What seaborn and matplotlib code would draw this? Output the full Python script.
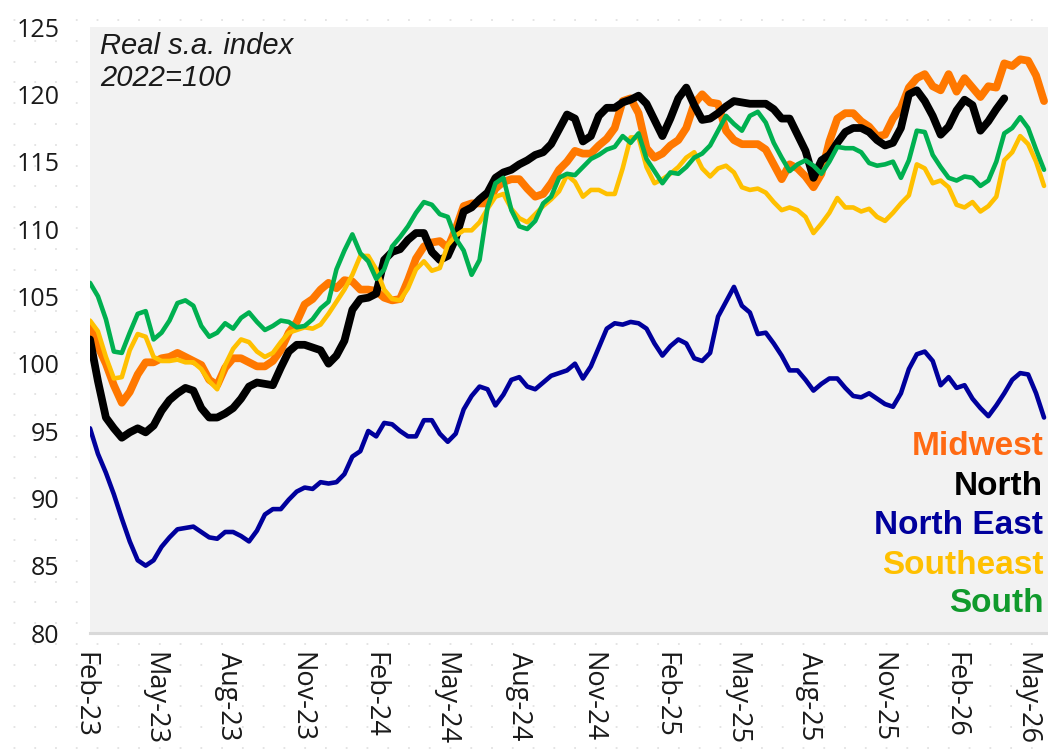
import numpy as np
import pandas as pd
import matplotlib
matplotlib.use("Agg")
import matplotlib.pyplot as plt
import matplotlib.dates as mdates
import matplotlib.transforms as mtransforms
import seaborn as sns

# ---------------- data (10-day steps from 1 Feb 2023) ----------------
dates = pd.date_range("2023-02-01", periods=121, freq="10D")

midwest = [102.8, 101.3, 100.0, 98.4, 97.1, 97.9, 99.2, 100.1, 100.1, 100.4,
           100.5, 100.8, 100.5, 100.2, 99.9, 98.8, 98.4, 99.7, 100.4, 100.4,
           100.1, 99.8, 99.8, 100.2, 101.0, 102.3, 103.1, 104.4, 104.8, 105.5,
           106.0, 105.6, 106.2, 106.1, 105.5, 105.5, 105.4, 104.9, 104.7, 104.8,
           106.2, 107.8, 108.7, 109.0, 109.1, 108.6, 110.0, 111.7, 111.9, 111.9,
           111.9, 113.0, 113.5, 113.7, 113.7, 113.0, 112.4, 112.6, 113.4, 114.4,
           115.0, 115.8, 115.6, 115.6, 116.2, 116.7, 117.5, 119.5, 119.7, 118.6,
           116.0, 115.3, 115.6, 116.2, 116.6, 117.5, 119.3, 120.0, 119.4, 119.3,
           117.3, 116.6, 116.3, 116.3, 116.3, 115.9, 114.8, 113.7, 114.8, 114.5,
           113.9, 113.1, 114.1, 116.5, 118.2, 118.6, 118.6, 118.0, 117.6, 116.9,
           117.0, 118.2, 119.0, 120.5, 121.2, 121.5, 120.6, 120.3, 121.5, 120.2,
           121.2, 120.5, 119.8, 120.6, 120.5, 122.3, 122.1, 122.6, 122.5, 121.4,
           119.5]

north = [101.8, 98.7, 96.0, 95.2, 94.5, 94.9, 95.2, 94.9, 95.4, 96.5,
         97.3, 97.8, 98.2, 98.0, 96.7, 96.0, 96.0, 96.3, 96.7, 97.4,
         98.3, 98.6, 98.5, 98.4, 99.7, 100.9, 101.4, 101.4, 101.2, 101.0,
         100.0, 100.6, 101.7, 104.0, 104.8, 104.9, 105.2, 107.7, 108.3, 108.5,
         109.2, 109.7, 109.7, 108.3, 107.7, 108.0, 109.3, 111.3, 111.6, 112.2,
         112.7, 113.8, 114.2, 114.4, 114.8, 115.1, 115.5, 115.7, 116.3, 117.4,
         118.5, 118.2, 116.5, 116.9, 118.4, 119.0, 119.0, 119.4, 119.6, 119.9,
         119.3, 118.1, 116.9, 118.2, 119.7, 120.5, 119.2, 118.1, 118.2, 118.6,
         119.1, 119.5, 119.4, 119.3, 119.3, 119.3, 118.9, 118.2, 118.2, 117.0,
         115.8, 113.8, 115.1, 115.5, 116.4, 117.2, 117.5, 117.5, 117.2, 116.6,
         116.2, 116.4, 117.5, 120.0, 120.3, 119.5, 118.4, 117.0, 117.6, 118.8,
         119.6, 119.2, 117.3, 118.0, 118.9, 119.7]

north_east = [95.2, 93.3, 91.9, 90.3, 88.5, 86.8, 85.4, 85.0, 85.4, 86.4,
              87.1, 87.7, 87.8, 87.9, 87.5, 87.1, 87.0, 87.5, 87.5, 87.2,
              86.8, 87.6, 88.8, 89.2, 89.2, 89.9, 90.5, 90.8, 90.7, 91.2,
              91.1, 91.2, 91.8, 93.1, 93.5, 95.0, 94.6, 95.6, 95.5, 95.0,
              94.6, 94.6, 95.8, 95.8, 94.8, 94.2, 94.8, 96.6, 97.6, 98.3,
              98.1, 96.9, 97.7, 98.8, 99.0, 98.3, 98.1, 98.6, 99.1, 99.3,
              99.5, 100.0, 98.9, 99.8, 101.2, 102.6, 103.0, 102.9, 103.1, 103.0,
              102.6, 101.5, 100.6, 101.3, 101.8, 101.5, 100.4, 100.2, 100.8, 103.5,
              104.6, 105.7, 104.3, 103.8, 102.2, 102.3, 101.5, 100.6, 99.5, 99.5,
              98.8, 98.0, 98.5, 98.9, 98.9, 98.2, 97.6, 97.5, 97.8, 97.4,
              97.0, 96.8, 97.8, 99.6, 100.7, 100.9, 100.2, 98.4, 99.0, 98.2,
              98.4, 97.4, 96.7, 96.1, 96.9, 97.8, 98.8, 99.3, 99.2, 97.8,
              96.0]

southeast = [103.2, 102.4, 100.5, 98.9, 99.0, 101.0, 102.2, 102.0, 100.5, 100.2,
             100.2, 100.3, 100.1, 100.1, 99.6, 98.7, 98.1, 99.9, 101.1, 101.8,
             101.6, 100.9, 100.5, 100.8, 101.6, 102.3, 102.5, 102.7, 102.6, 102.9,
             103.7, 104.6, 105.5, 106.6, 108.0, 108.0, 107.0, 105.5, 104.8, 104.7,
             105.6, 107.0, 107.6, 106.9, 107.1, 108.8, 109.5, 109.9, 109.9, 110.5,
             111.5, 112.4, 112.6, 111.5, 110.8, 110.5, 111.1, 111.7, 112.2, 112.8,
             114.0, 113.5, 112.4, 112.9, 112.9, 112.6, 112.6, 114.5, 116.8, 116.8,
             114.6, 113.4, 113.7, 114.1, 114.6, 115.3, 115.7, 114.5, 113.9, 114.5,
             114.7, 114.2, 113.1, 112.9, 113.0, 112.7, 112.0, 111.4, 111.6, 111.4,
             110.9, 109.7, 110.4, 111.2, 112.3, 111.6, 111.6, 111.3, 111.5, 110.9,
             110.6, 111.2, 111.9, 112.5, 114.8, 114.5, 113.4, 113.6, 113.1, 111.8,
             111.6, 112.0, 111.3, 111.7, 112.4, 115.1, 115.7, 116.9, 116.3, 115.0,
             113.2]

south = [106.0, 105.0, 103.3, 100.9, 100.8, 102.3, 103.7, 103.9, 101.8, 102.3,
         103.2, 104.5, 104.7, 104.3, 102.8, 102.0, 102.3, 103.0, 102.6, 103.4,
         103.8, 103.1, 102.5, 102.8, 103.2, 103.1, 102.7, 102.8, 103.3, 104.1,
         104.6, 107.0, 108.4, 109.6, 108.2, 107.6, 106.3, 107.0, 108.7, 109.4,
         110.2, 111.2, 112.0, 111.8, 111.1, 110.9, 109.3, 108.4, 106.6, 107.7,
         111.6, 113.4, 113.8, 111.4, 110.2, 110.0, 110.6, 111.9, 112.4, 113.8,
         114.1, 114.0, 114.6, 115.2, 115.5, 115.9, 116.1, 116.9, 116.4, 117.1,
         115.2, 114.3, 113.4, 114.2, 114.1, 114.6, 115.3, 115.6, 116.2, 117.3,
         118.4, 117.8, 117.3, 118.4, 118.7, 117.9, 116.4, 115.3, 114.3, 114.8,
         115.1, 114.7, 114.1, 115.0, 116.1, 116.0, 116.0, 115.7, 114.9, 114.7,
         114.8, 115.0, 113.8, 115.1, 117.3, 117.2, 115.5, 114.6, 113.8, 113.6,
         113.9, 113.8, 113.2, 113.6, 115.0, 117.1, 117.5, 118.3, 117.5, 115.9,
         114.4]

series_names = ["Midwest", "North", "North East", "Southeast", "South"]
series_values = [midwest, north, north_east, southeast, south]
y_ticks = [80, 85, 90, 95, 100, 105, 110, 115, 120, 125]
annotation = "Real s.a. index\n2022=100"

# ---------------- styling ----------------
line_colors = {"Midwest": "#FF7800", "North": "#000000", "North East": "#00009C",
               "Southeast": "#FFC000", "South": "#00B050"}
label_colors = {"Midwest": "#FF6A13", "North": "#000000", "North East": "#00009C",
                "Southeast": "#FFC000", "South": "#109A2C"}
line_widths = {"Midwest": 5.6, "North": 5.6, "North East": 3.3,
               "Southeast": 3.3, "South": 3.3}
draw_order = ["Midwest", "North", "Southeast", "South", "North East"]

frames = []
for name, vals in zip(series_names, series_values):
    frames.append(pd.DataFrame({"date": dates[:len(vals)], "value": vals, "region": name}))
df = pd.concat(frames, ignore_index=True)

sns.set_theme(style="white")
plt.rcParams["font.family"] = ["Open Sans", "DejaVu Sans"]

fig = plt.figure(figsize=(10.48, 7.54), dpi=100)
fig.patch.set_facecolor("white")

# faint dotted page background
bg = fig.add_axes([0, 0, 1, 1], zorder=-5)
bg.set_xlim(0, 1048)
bg.set_ylim(0, 754)
bg.set_yticks(np.arange(6, 754, 20.8))
bg.set_xticks([])
bg.grid(axis="y", color="#e2e2e2", linewidth=1.3, linestyle=(4, (1.0, 10.5)))
bg.tick_params(left=False, labelleft=False)
for s in bg.spines.values():
    s.set_visible(False)
bg.set_facecolor("white")

ax = fig.add_axes([90 / 1048, 121 / 754, 958 / 1048, 606 / 754])
ax.set_facecolor("#F2F2F2")

for name in draw_order:
    sub = df[df["region"] == name]
    sns.lineplot(data=sub, x="date", y="value", ax=ax, color=line_colors[name],
                 linewidth=line_widths[name], legend=False, solid_joinstyle="round",
                 solid_capstyle="round")

ax.set_xlim(pd.Timestamp("2023-02-01"), pd.Timestamp("2026-05-21"))
ax.set_ylim(80, 125)
ax.set_yticks(y_ticks)
ax.set_xlabel("")
ax.set_ylabel("")
ax.xaxis.set_major_locator(mdates.MonthLocator(bymonth=[2, 5, 8, 11], bymonthday=1))
ax.xaxis.set_major_formatter(mdates.DateFormatter("%b-%y"))
ax.tick_params(axis="y", length=0, pad=22, labelsize=18, labelcolor="#1a1a1a")
ax.tick_params(axis="x", length=0, pad=14, labelsize=19.5, labelcolor="#1a1a1a",
               labelrotation=-90)
shift = mtransforms.ScaledTranslation(-6 / 100, 0, fig.dpi_scale_trans)
for lbl in ax.get_xticklabels():
    lbl.set_verticalalignment("top")
    lbl.set_transform(lbl.get_transform() + shift)

for side in ["top", "right", "left"]:
    ax.spines[side].set_visible(False)
ax.spines["bottom"].set_color("#D9D9D9")
ax.spines["bottom"].set_linewidth(2.2)
ax.grid(False)

ax.text(0.0105, 0.992, annotation, transform=ax.transAxes, ha="left", va="top",
        fontsize=21, style="italic", color="#1a1a1a",
        family=["Liberation Sans", "DejaVu Sans"], linespacing=1.2)

label_y = [0.307, 0.241, 0.178, 0.112, 0.048]
for name, yy in zip(series_names, label_y):
    ax.text(0.995, yy, name, transform=ax.transAxes, ha="right", va="center",
            fontsize=24, fontweight="bold", color=label_colors[name],
            family=["Liberation Sans", "DejaVu Sans"])

fig.savefig("out.png", dpi=100, facecolor="white")
